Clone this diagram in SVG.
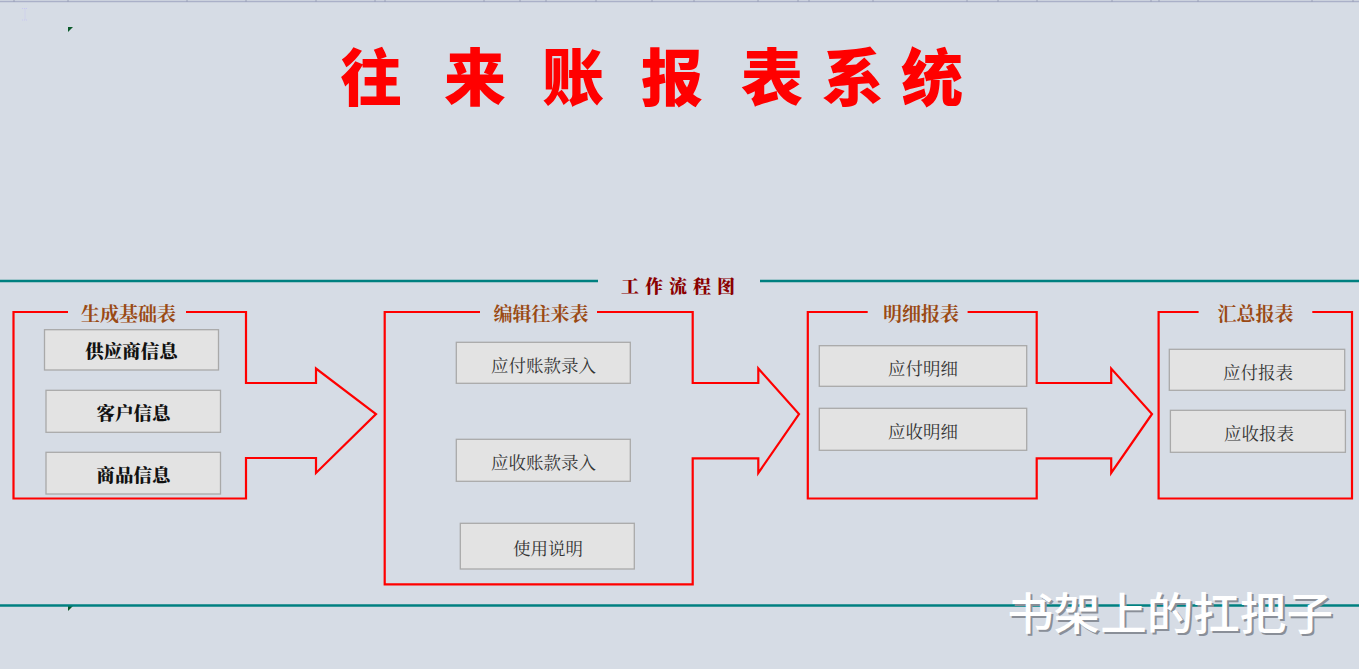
<svg xmlns="http://www.w3.org/2000/svg" width="1359" height="669" viewBox="0 0 1359 669">
<style>
.bg{fill:#d6dce5}
.flow{fill:none;stroke:#ff0000;stroke-width:2.2;stroke-linejoin:miter}
.rule{stroke:#008080;stroke-width:2.5}
.btn{fill:#e3e3e3;stroke:#a9a9a9;stroke-width:1.3}
.ttl{font-family:"Noto Sans CJK SC",sans-serif;font-weight:900;font-size:62px;fill:#ff0000;text-anchor:middle;dominant-baseline:central}
.lbl{font-family:"Noto Serif CJK SC","Noto Sans CJK SC",serif;font-weight:700;font-size:19px;fill:#9a4a14;text-anchor:middle;dominant-baseline:central}
.bt{font-family:"Noto Serif CJK SC","Noto Sans CJK SC",serif;font-weight:900;font-size:18.5px;fill:#111;text-anchor:middle;dominant-baseline:central}
.nt{font-family:"Noto Serif CJK SC","Noto Sans CJK SC",serif;font-weight:400;font-size:17.5px;fill:#333;text-anchor:middle;dominant-baseline:central}
.sec{font-family:"Noto Serif CJK SC","Noto Sans CJK SC",serif;font-weight:900;font-size:18px;fill:#8b0000;text-anchor:middle;dominant-baseline:central;letter-spacing:6px}
.wm{font-family:"Noto Sans CJK SC",sans-serif;font-weight:500;font-size:44px;text-anchor:start}
.tick{stroke:#9aa0b8;stroke-width:1}
</style>
<rect class="bg" x="0" y="0" width="1359" height="669"/>
<g id="header-grid">
<line x1="0" y1="1.5" x2="1359" y2="1.5" stroke="#aab0c8" stroke-width="1.5"/>
<path class="tick" d="M14,0V2 M68,0V2 M187,0V2 M246,0V2 M316,0V2 M375,0V2 M385,0V2 M484,0V2 M520,0V2 M546,0V2 M596,0V2 M652,0V2 M694,0V2 M758,0V2 M798,0V2 M809,0V2 M873,0V2 M967,0V2 M998,0V2 M1037,0V2 M1112,0V2 M1151,0V2 M1159,0V2 M1198,0V2 M1312,0V2 M1353,0V2"/>
<path d="M22,8.5H28 M25,8.5V20 M22,20H28" stroke="#c8c8f0" stroke-width="1" stroke-dasharray="1,1" fill="none"/>
<path d="M68,27H73L68,32Z" fill="#0a5a2a"/>
<path d="M68,606H73L68,611Z" fill="#0a5a2a"/>
</g>
<g id="title">
<text class="ttl" x="371" y="74">往</text>
<text class="ttl" x="475" y="74">来</text>
<text class="ttl" x="573" y="74">账</text>
<text class="ttl" x="672" y="74">报</text>
<text class="ttl" x="772" y="74">表</text>
<text class="ttl" x="853" y="74">系</text>
<text class="ttl" x="932" y="74">统</text>
</g>
<g id="rules">
<line class="rule" x1="0" y1="281" x2="598" y2="281"/>
<line class="rule" x1="760" y1="281" x2="1359" y2="281"/>
<line class="rule" x1="0" y1="605.5" x2="1359" y2="605.5"/>
<text class="sec" x="681" y="285">工作流程图</text>
</g>
<g id="connectors">
<path class="flow" d="M186,312H246V383H316V368.5L376,414L316,473V458H246V498.5H13.5V312H68"/>
<path class="flow" d="M597,312H692.7V383H758.3V368.5L799,414L758.3,473V458.3H692.7V584.3H384.7V312H480"/>
<path class="flow" d="M967.6,312H1036.7V383H1111.2V368.5L1152,414L1111.2,473V458.3H1036.7V498.5H807.8V312H867.7"/>
<path class="flow" d="M1312.3,312H1352V498.5H1158.6V312H1198.6"/>
</g>
<g id="group-basic">
<text class="lbl" x="128.5" y="312">生成基础表</text>
<g id="node-supplier"><rect class="btn" x="44.5" y="329.7" width="174" height="40.3"/><text class="bt" x="131.5" y="350">供应商信息</text></g>
<g id="node-customer"><rect class="btn" x="46" y="390.3" width="174.5" height="42"/><text class="bt" x="133.5" y="411.5">客户信息</text></g>
<g id="node-goods"><rect class="btn" x="46" y="452.3" width="174.5" height="41.7"/><text class="bt" x="133.5" y="474">商品信息</text></g>
</g>
<g id="group-edit">
<text class="lbl" x="541" y="312">编辑往来表</text>
<g id="node-payable-entry"><rect class="btn" x="456.3" y="342.3" width="174" height="41"/><text class="nt" x="543.5" y="364">应付账款录入</text></g>
<g id="node-receivable-entry"><rect class="btn" x="456.3" y="439.3" width="174" height="42"/><text class="nt" x="543.5" y="461.5">应收账款录入</text></g>
<g id="node-manual"><rect class="btn" x="460.3" y="523.3" width="174" height="45.7"/><text class="nt" x="548" y="547">使用说明</text></g>
</g>
<g id="group-detail">
<text class="lbl" x="921" y="312">明细报表</text>
<g id="node-payable-detail"><rect class="btn" x="819.3" y="345.7" width="207.4" height="40.6"/><text class="nt" x="923" y="367">应付明细</text></g>
<g id="node-receivable-detail"><rect class="btn" x="819.3" y="408.3" width="207.4" height="42"/><text class="nt" x="923" y="430.5">应收明细</text></g>
</g>
<g id="group-summary">
<text class="lbl" x="1255.5" y="312">汇总报表</text>
<g id="node-payable-report"><rect class="btn" x="1169.3" y="349.3" width="175.4" height="41"/><text class="nt" x="1258" y="371">应付报表</text></g>
<g id="node-receivable-report"><rect class="btn" x="1170.4" y="410.3" width="175" height="42"/><text class="nt" x="1259" y="432.5">应收报表</text></g>
</g>
<g id="watermark">
<text class="wm" x="1009" y="632" fill="#8a8f98" textLength="326" lengthAdjust="spacingAndGlyphs">书架上的扛把子</text>
<text class="wm" x="1007" y="630" fill="#ffffff" textLength="326" lengthAdjust="spacingAndGlyphs">书架上的扛把子</text>
</g>
</svg>
